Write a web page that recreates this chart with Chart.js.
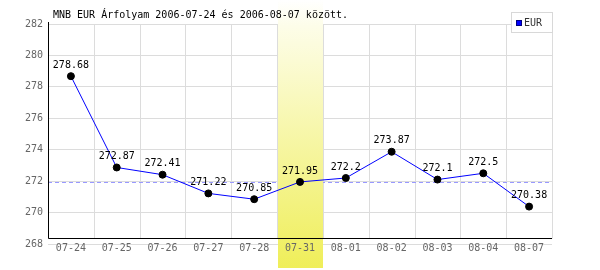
<!DOCTYPE html>
<html>
<head>
<meta charset="utf-8">
<script src="https://cdn.jsdelivr.net/npm/chart.js@4/dist/chart.umd.min.js"></script>
<style>
  body { margin: 0; background: #fff; }
  canvas { display: block; }
</style>
</head>
<body>
<canvas id="rateChart" width="600" height="270"></canvas>
<script>
const TITLE = 'MNB EUR Árfolyam 2006-07-24 és 2006-08-07 között.';
const SERIES_NAME = 'EUR';
const dates = ['07-24', '07-25', '07-26', '07-27', '07-28', '07-31', '08-01', '08-02', '08-03', '08-04', '08-07'];
const eurRates = [278.68, 272.87, 272.41, 271.22, 270.85, 271.95, 272.2, 273.87, 272.1, 272.5, 270.38];
const highlightIndex = 5;      // 07-31 highlighted column
const refValue = 271.95;       // dashed reference line (value of highlighted day)
const axisBase = 268.4;        // where the black x axis line sits
const yMin = 268, yMax = 282, yStep = 2;

const MONO = '"DejaVu Sans Mono", monospace';

// custom drawing: vertical grid, reference line, highlight band, axes, labels, title, legend
const decorPlugin = {
    id: 'decor',
    beforeDatasetsDraw(chart) {
        const { ctx, chartArea, scales } = chart;
        const x = scales.x, y = scales.y;
        const half = (x.getPixelForValue(1) - x.getPixelForValue(0)) / 2;
        const base = Math.round(y.getPixelForValue(axisBase)) + 0.5;

        ctx.save();
        // vertical grid lines at category boundaries
        ctx.strokeStyle = '#dcdcdc';
        ctx.lineWidth = 1;
        for (let i = 0; i <= dates.length; i++) {
            const px = Math.round(x.getPixelForValue(i) - half) + 0.5;
            ctx.beginPath();
            ctx.moveTo(px, chartArea.top);
            ctx.lineTo(px, base);
            ctx.stroke();
        }

        // dashed reference line
        const ry = Math.round(y.getPixelForValue(refValue)) + 0.5;
        ctx.strokeStyle = '#9999ff';
        ctx.setLineDash([4, 3]);
        ctx.beginPath();
        ctx.moveTo(chartArea.left, ry);
        ctx.lineTo(chartArea.right, ry);
        ctx.stroke();
        ctx.setLineDash([]);

        // highlight band
        const bx0 = Math.round(x.getPixelForValue(highlightIndex) - half) + 1;
        const bx1 = Math.round(x.getPixelForValue(highlightIndex) + half);
        const grad = ctx.createLinearGradient(0, 0, 0, chart.height);
        grad.addColorStop(0, '#ffffff');
        grad.addColorStop(0.1, '#fdfde8');
        grad.addColorStop(1, '#efee58');
        ctx.fillStyle = grad;
        ctx.fillRect(bx0, 0, bx1 - bx0, chart.height - 2);

        // axes
        ctx.strokeStyle = '#000';
        ctx.beginPath();
        ctx.moveTo(Math.round(chartArea.left) + 0.5, chartArea.top - 2);
        ctx.lineTo(Math.round(chartArea.left) + 0.5, base);
        ctx.lineTo(chartArea.right, base);
        ctx.stroke();

        // category labels
        ctx.font = '10px ' + MONO;
        ctx.fillStyle = '#666';
        ctx.textAlign = 'center';
        ctx.textBaseline = 'middle';
        dates.forEach((d, i) => {
            ctx.fillText(d, x.getPixelForValue(i), base + 10);
        });
        ctx.restore();
    },
    afterDatasetsDraw(chart) {
        const { ctx } = chart;
        const meta = chart.getDatasetMeta(0);
        ctx.save();
        ctx.font = '10px ' + MONO;
        ctx.fillStyle = '#000';
        ctx.textAlign = 'center';
        ctx.textBaseline = 'middle';
        meta.data.forEach((pt, i) => {
            ctx.fillText(String(eurRates[i]), pt.x, pt.y - 11);
        });
        ctx.restore();
    },
    afterDraw(chart) {
        const { ctx, chartArea } = chart;
        ctx.save();
        // title
        ctx.font = '10px ' + MONO;
        ctx.fillStyle = '#000';
        ctx.textBaseline = 'middle';
        ctx.textAlign = 'left';
        ctx.fillText(TITLE, chartArea.left + 5, 15);

        // legend box
        const lx = chartArea.right - 41, ly = 12;
        ctx.fillStyle = '#fff';
        ctx.fillRect(lx, ly, 41, 20);
        ctx.strokeStyle = '#d8d8d8';
        ctx.strokeRect(lx + 0.5, ly + 0.5, 41, 20);
        ctx.fillStyle = '#0000ff';
        ctx.fillRect(lx + 5, ly + 8, 6, 6);
        ctx.strokeStyle = '#000080';
        ctx.strokeRect(lx + 5.5, ly + 8.5, 5, 5);
        ctx.fillStyle = '#333';
        ctx.font = '10px ' + MONO;
        ctx.fillText(SERIES_NAME, lx + 13, ly + 11);
        ctx.restore();
    }
};

new Chart(document.getElementById('rateChart'), {
    type: 'line',
    data: {
        labels: dates,
        datasets: [{
            label: SERIES_NAME,
            data: eurRates,
            borderColor: '#0000ff',
            borderWidth: 1,
            pointBackgroundColor: '#000',
            pointBorderColor: '#000',
            pointRadius: 3.5,
            tension: 0
        }]
    },
    options: {
        responsive: false,
        animation: false,
        devicePixelRatio: 1,
        layout: { padding: { top: 24, right: 48, left: 0, bottom: 0 } },
        plugins: {
            legend: { display: false },
            title: { display: false },
            tooltip: { enabled: false }
        },
        scales: {
            x: {
                offset: true,
                afterFit: (s) => { s.height = 26; },
                grid: { display: false, drawTicks: false },
                border: { display: false },
                ticks: { display: false }
            },
            y: {
                min: yMin,
                max: yMax,
                afterFit: (s) => { s.width = 48; },
                grid: { color: '#dcdcdc', drawTicks: false },
                border: { display: false },
                ticks: { stepSize: yStep, color: '#666', font: { family: MONO, size: 10 }, padding: 5 }
            }
        }
    },
    plugins: [decorPlugin]
});
</script>
</body>
</html>
